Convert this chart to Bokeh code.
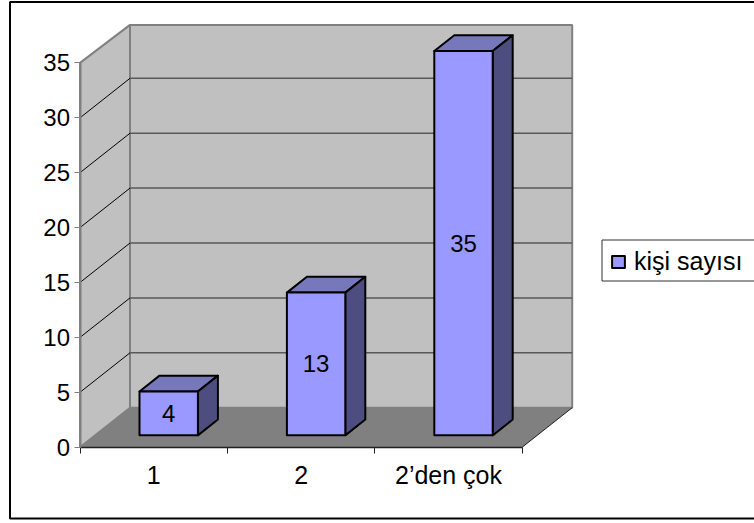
from bokeh.core.properties import value
from bokeh.embed import file_html
from bokeh.models import FixedTicker, Legend, LegendItem, LinearAxis, Range1d
from bokeh.plotting import figure
from bokeh.resources import INLINE

categories = ["1", "2", "2’den çok"]
counts = [4, 13, 35]
series_name = "kişi sayısı"
y_ticks = [0, 5, 10, 15, 20, 25, 30, 35]

FONT = "Liberation Sans"
FRONT = "#9999FF"
TOP = "#7777BB"
SIDE = "#4D4D80"
WALL = "#C0C0C0"
FLOOR = "#808080"

WIDTH, HEIGHT = 754, 523
X0_PX, Y0_PX = 79.5, 446.7      # screen position of the axes origin
CAT_PX, UNIT_PX = 147.4, 10.98  # pixels per category and per count

def px_x(px):
    return (px - X0_PX) / CAT_PX

def px_y(py):
    return (Y0_PX - py) / UNIT_PX

# depth of the box in the oblique projection, in data units
DX = 50 / CAT_PX
DY = 39.5 / UNIT_PX
BAR_W = 58.4 / CAT_PX
BAR_FRONT, BAR_DEPTH = 0.3, 0.4
n = len(categories)
top_val = max(y_ticks)
wall_top = top_val + DY - 1.5 / UNIT_PX

p = figure(width=WIDTH, height=HEIGHT, output_backend="svg", toolbar_location=None,
           x_range=Range1d(px_x(0), px_x(WIDTH)), y_range=Range1d(px_y(HEIGHT), px_y(0)),
           x_axis_type=None, y_axis_type=None, min_border=0,
           outline_line_color=None, background_fill_color="white", border_fill_color="white")
p.grid.visible = False

# chart area border, running off the right edge
bx0, bx1, by0, by1 = px_x(9.5), px_x(WIDTH + 20), px_y(518), px_y(1.5)
p.line([bx1, bx0, bx0, bx1], [by1, by1, by0, by0], line_color="black", line_width=2)

# legend box, also running off the right edge
lx0, ly0, ly1 = px_x(601.5), px_y(280.5), px_y(239.5)
p.line([bx1, lx0, lx0, bx1], [ly1, ly1, ly0, ly0], line_color="#303030", line_width=1)

# walls and floor
p.patch([0, DX, DX, 0], [0, DY, wall_top, top_val], fill_color=WALL, line_color=FLOOR, line_width=2)
p.patch([DX, n + DX, n + DX, DX], [DY, DY, wall_top, wall_top], fill_color=WALL, line_color=FLOOR, line_width=2)
p.patch([0, n, n + DX, DX], [0, 0, DY, DY], fill_color=FLOOR, line_color=None)
p.line([n, n + DX], [0, DY], line_color="#202020", line_width=1)

# gridlines across the left wall and the back wall
for t in y_ticks[1:-1]:
    p.line([0, DX], [t, t + DY], line_color="black", line_width=1)
    p.line([DX, n + DX], [t + DY, t + DY], line_color="#595959", line_width=1.5)

# bars
bar_lefts = [i + 0.5 - BAR_W / 2 + BAR_FRONT * DX for i in range(n)]
bar_rights = [l + BAR_W for l in bar_lefts]
base = BAR_FRONT * DY
bar_tops = [base + c for c in counts]
ddx, ddy = BAR_DEPTH * DX, BAR_DEPTH * DY
edge = dict(line_color="black", line_width=2, line_join="round")
for l, r, t in zip(bar_lefts, bar_rights, bar_tops):
    p.patch([l, r, r + ddx, l + ddx], [t, t, t + ddy, t + ddy], fill_color=TOP, **edge)
    p.patch([r, r + ddx, r + ddx, r], [base, base + ddy, t + ddy, t], fill_color=SIDE, **edge)
fronts = p.quad(left=bar_lefts, right=bar_rights, bottom=[base] * n, top=bar_tops, fill_color=FRONT, **edge)

p.text(x=[(l + r) / 2 for l, r in zip(bar_lefts, bar_rights)],
       y=[base + c / 2 for c in counts],
       text=[str(c) for c in counts],
       text_font=value(FONT), text_font_size="24px",
       text_align="center", text_baseline="middle", text_color="black")

# value axis
y_axis = LinearAxis(fixed_location=0, ticker=FixedTicker(ticks=y_ticks), bounds=(0, top_val),
                    axis_line_color=FLOOR, axis_line_width=2,
                    major_tick_in=0, major_tick_out=6, major_tick_line_color=FLOOR, major_tick_line_width=1,
                    minor_tick_line_color=None, major_label_standoff=4,
                    major_label_text_font=FONT, major_label_text_font_size="24px",
                    major_label_text_color="black")
p.add_layout(y_axis, "left")

# category axis: labels centred between the tick marks
x_axis = LinearAxis(fixed_location=0,
                    ticker=FixedTicker(ticks=[i + 0.5 for i in range(n)], minor_ticks=list(range(n + 1))),
                    bounds=(0, n),
                    major_label_overrides={i + 0.5: c for i, c in enumerate(categories)},
                    axis_line_color="#202020", axis_line_width=1.5,
                    major_tick_line_color=None, major_tick_in=0, major_tick_out=0,
                    minor_tick_line_color="#202020", minor_tick_in=0, minor_tick_out=6,
                    major_label_standoff=8,
                    major_label_text_font=FONT, major_label_text_font_size="25px",
                    major_label_text_color="black")
p.add_layout(x_axis, "below")

legend = Legend(items=[LegendItem(label=series_name, renderers=[fronts])],
                location=(610, 247), margin=0, padding=0, spacing=0,
                glyph_width=16, glyph_height=15, label_standoff=8,
                label_text_font=FONT, label_text_font_size="25px",
                label_text_color="black", border_line_color=None,
                background_fill_alpha=0)
p.add_layout(legend)

open("out.html", "w").write(file_html(p, INLINE))
